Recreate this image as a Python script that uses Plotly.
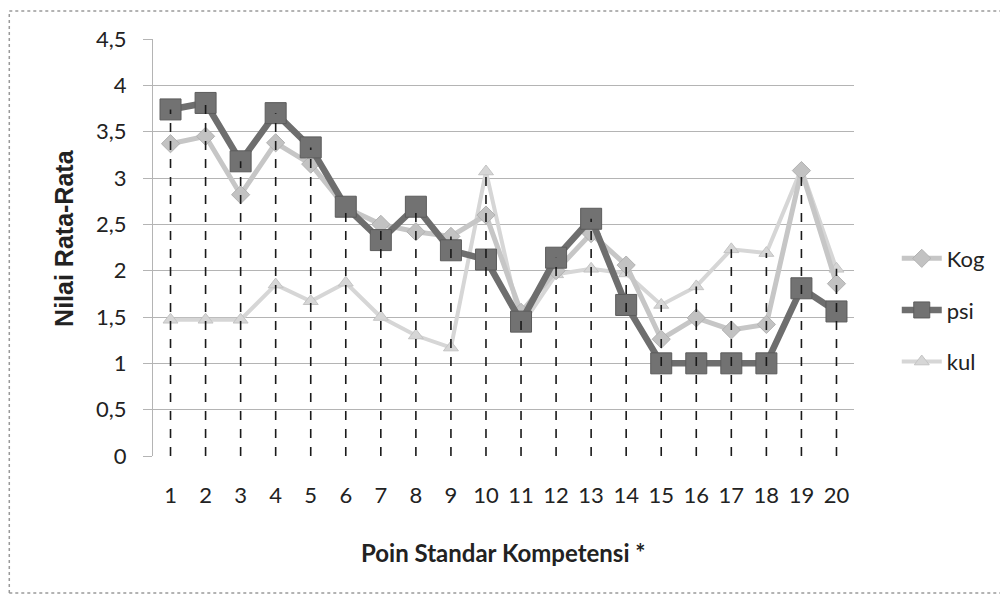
import plotly.graph_objects as go

points = list(range(1, 21))
kog = [3.37, 3.45, 2.82, 3.38, 3.15, 2.68, 2.5, 2.42, 2.37, 2.6,
       1.55, 2.0, 2.4, 2.06, 1.26, 1.49, 1.36, 1.42, 3.08, 1.86]
psi = [3.74, 3.81, 3.18, 3.7, 3.33, 2.69, 2.33, 2.69, 2.22, 2.12,
       1.45, 2.14, 2.56, 1.63, 1.0, 1.0, 1.0, 1.0, 1.81, 1.56]
kul = [1.47, 1.47, 1.47, 1.85, 1.67, 1.87, 1.5, 1.3, 1.17, 3.07,
       1.4, 1.96, 2.02, 1.97, 1.63, 1.83, 2.23, 2.19, 3.1, 2.02]
yticks = [0, 0.5, 1, 1.5, 2, 2.5, 3, 3.5, 4, 4.5]

FONT = "Lato"
TXT = "#222222"

fig = go.Figure()

fig.add_trace(go.Scatter(
    x=points, y=kul, name="kul", mode="lines+markers", legendrank=3, legendgroup="kul",
    line=dict(color="#d6d6d6", width=4),
    marker=dict(symbol="triangle-up", size=13, color="#d6d6d6", line=dict(color="#c4c4c4", width=1)),
))
fig.add_trace(go.Scatter(
    x=points, y=kog, name="Kog", mode="lines+markers", legendrank=1, legendgroup="Kog",
    line=dict(color="#c6c6c6", width=5),
    marker=dict(symbol="diamond", size=14, color="#c2c2c2", line=dict(color="#b2b2b2", width=1)),
))
fig.add_trace(go.Scatter(
    x=points, y=psi, name="psi", mode="lines+markers", legendrank=2, legendgroup="psi",
    line=dict(color="#6e6e6e", width=6.5),
    marker=dict(symbol="square", size=21, color="#727272", line=dict(color="#5c5c5c", width=1)),
))

# drop lines from the highest value down to the axis
tops = [max(a, b, c) for a, b, c in zip(kog, psi, kul)]
for x, t in zip(points, tops):
    fig.add_trace(go.Scatter(
        x=[x, x], y=[0, t], mode="lines", showlegend=False, hoverinfo="skip",
        line=dict(color="#1a1a1a", width=1.6, dash="dash"),
    ))

border = dict(color="#9a9a9a", width=1.5, dash="dot")
fig.update_layout(
    width=1000, height=586,
    margin=dict(l=145, r=154, t=31, b=138, autoexpand=False),
    paper_bgcolor="white", plot_bgcolor="white",
    separators=",.",
    font=dict(family=FONT, color=TXT),
    showlegend=True,
    legend=dict(
        x=1.061, y=0.35, xanchor="left", yanchor="middle",
        font=dict(family=FONT, size=22, color=TXT),
        traceorder="grouped", tracegroupgap=20, itemwidth=40,
    ),
    shapes=[
        dict(type="line", xref="paper", yref="paper", x0=-0.205, x1=-0.205, y0=-0.3285, y1=1.067, line=border),
        dict(type="line", xref="paper", yref="paper", x0=-0.205, x1=1.3, y0=1.067, y1=1.067, line=border),
        dict(type="line", xref="paper", yref="paper", x0=-0.205, x1=1.3, y0=-0.3285, y1=-0.3285, line=border),
    ],
    annotations=[
        dict(text="<b>Poin Standar Kompetensi *</b>", xref="paper", yref="paper",
             x=0.5, y=-0.2326, showarrow=False, xanchor="center", yanchor="middle",
             font=dict(family=FONT, size=24, color=TXT)),
        dict(text="<b>Nilai Rata-Rata</b>", xref="paper", yref="paper",
             x=-0.127, y=0.523, showarrow=False, textangle=-90, xanchor="center", yanchor="middle",
             font=dict(family="Liberation Sans", size=25, color=TXT)),
    ],
)

fig.update_xaxes(
    range=[0.5, 20.5], tickmode="array", tickvals=points, ticktext=[str(p) for p in points],
    showgrid=False, zeroline=False, showline=False, ticks="",
    ticklabelstandoff=24, automargin=False,
    tickfont=dict(family=FONT, size=22, color=TXT),
)
fig.update_yaxes(
    range=[0, 4.5], tickmode="array", tickvals=yticks,
    showgrid=True, gridcolor="#b4b4b4", gridwidth=1.2,
    zeroline=False, showline=True, linecolor="#b4b4b4", linewidth=1.2,
    ticks="outside", ticklen=9, tickcolor="#b4b4b4",
    ticklabelstandoff=12, automargin=False,
    tickfont=dict(family=FONT, size=22, color=TXT),
)

fig.write_html("out.html")
